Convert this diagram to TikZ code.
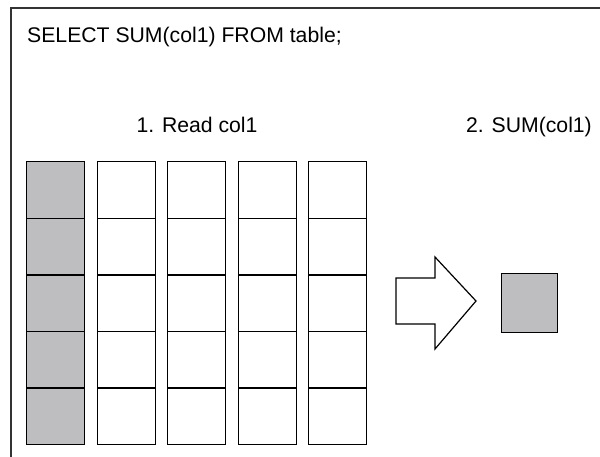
\documentclass[tikz,border=0pt]{standalone}
\usepackage{fontspec}
\setmainfont{Liberation Sans}
\definecolor{cellgray}{HTML}{BEBEC0}
\definecolor{framecol}{HTML}{333333}
\begin{document}
\begin{tikzpicture}[x=1pt,y=-1pt,
  cell/.style={draw,line width=1.3pt,minimum width=58pt,minimum height=56.6pt,inner sep=0pt,anchor=north west,fill=white},
  graycell/.style={cell,fill=cellgray},
  lbl/.style={inner sep=0pt,font=\fontsize{21.2}{25}\selectfont}]
\useasboundingbox (0,0) rectangle (600,456);
\draw[line width=1.5pt,framecol] (11,460) -- (11,8) -- (604,8);
\node[lbl,anchor=base west] (query) at (27,42) {SELECT SUM(col1) FROM table;};
\node[lbl,anchor=base] (step1) at (197,132) {1. Read col1};
\node[lbl,anchor=base] (step2) at (529,132) {2. SUM(col1)};
\foreach \r in {0,...,4}
  \node[graycell] (c0r\r) at (26,{161+\r*56.6}) {};
\foreach \c in {1,...,4}
  \foreach \r in {0,...,4}
    \node[cell] (c\c r\r) at ({26+\c*70.5},{161+\r*56.6}) {};
\draw[line width=1.2pt,fill=white] (396,278) -- (435,278) -- (435,257) -- (476,301) -- (435,349) -- (435,324) -- (396,324) -- cycle;
\node[graycell,minimum width=56pt,minimum height=59pt] (sum) at (501,273) {};
\end{tikzpicture}
\end{document}
